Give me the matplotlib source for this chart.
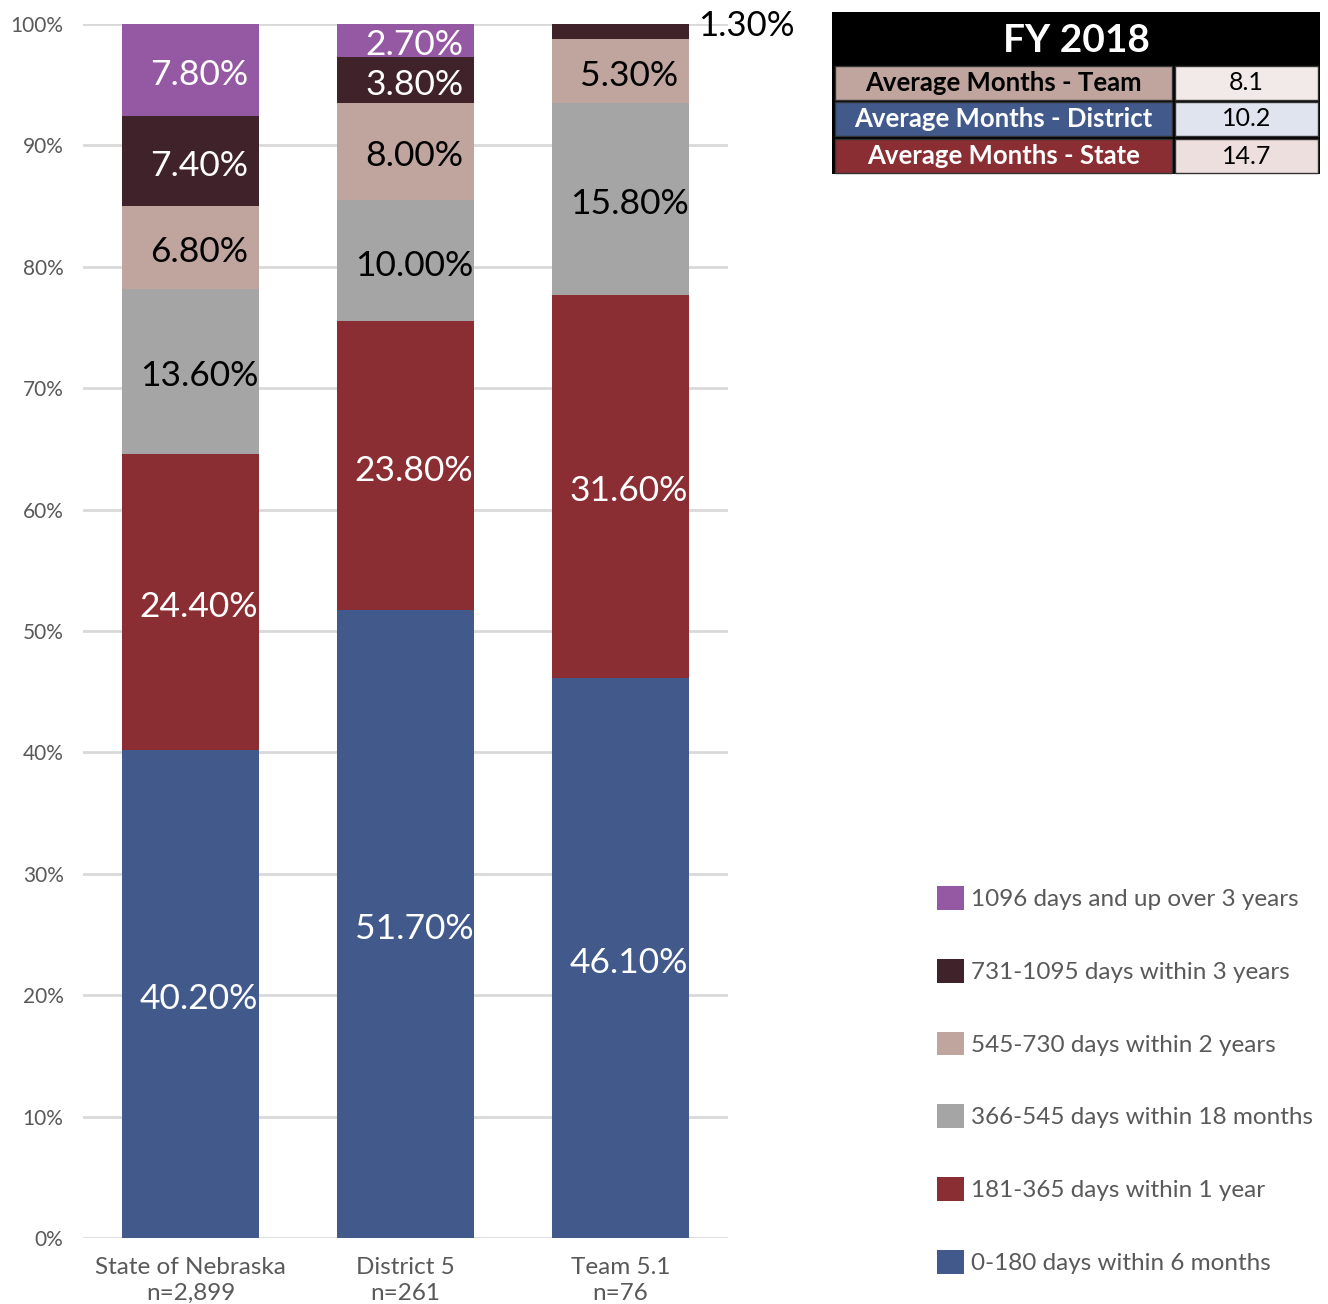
import matplotlib
matplotlib.use("Agg")
import matplotlib.pyplot as plt
from matplotlib.patches import Patch, Rectangle
import numpy as np

plt.rcParams['font.family'] = ['Lato', 'DejaVu Sans']

categories = ["State of Nebraska\nn=2,899", "District 5\nn=261", "Team 5.1\nn=76"]
series_names = ["0-180 days within 6 months", "181-365 days within 1 year",
                "366-545 days within 18 months", "545-730 days within 2 years",
                "731-1095 days within 3 years", "1096 days and up over 3 years"]
values = {
    "0-180 days within 6 months":     [40.2, 51.7, 46.1],
    "181-365 days within 1 year":     [24.4, 23.8, 31.6],
    "366-545 days within 18 months":  [13.6, 10.0, 15.8],
    "545-730 days within 2 years":    [6.8, 8.0, 5.3],
    "731-1095 days within 3 years":   [7.4, 3.8, 1.3],
    "1096 days and up over 3 years":  [7.8, 2.7, 0.0],
}
colors = ["#41598B", "#8B2E33", "#A5A5A5", "#BFA59E", "#40222A", "#9558A2"]
label_colors = ["white", "white", "black", "black", "white", "white"]

table_title = "FY 2018"
table_rows = ["Average Months - Team", "Average Months - District", "Average Months - State"]
table_vals = ["8.1", "10.2", "14.7"]
table_row_colors = ["#BFA59E", "#41598B", "#8B2E33"]
table_row_text = ["black", "white", "white"]
table_val_colors = ["#F2EAE8", "#DFE4EE", "#EEDFDF"]

W, H = 1328, 1304
fig = plt.figure(figsize=(W/100, H/100), dpi=100)
ax = fig.add_axes([83/W, 1-1238/H, (728-83)/W, (1238-24)/H])

x = np.arange(len(categories))
bw = 0.64
bottom = np.zeros(len(categories))
for i, name in enumerate(series_names):
    v = np.array(values[name]) / 100.0
    ax.bar(x, v, bw, bottom=bottom, color=colors[i], zorder=2, linewidth=0)
    for j in range(len(categories)):
        if v[j] <= 0:
            continue
        if v[j] < 0.02 and bottom[j] + v[j] > 0.99:
            ax.text(x[j] + bw/2 + 0.04, 0.998, f"{values[name][j]:.2f}%", ha='left', va='center',
                    fontsize=25, color='black', zorder=4)
        else:
            yc = min(bottom[j] + v[j]/2, (bottom[j] + 1.0)/2) - 0.004
            ax.text(x[j] + 0.04, yc, f"{values[name][j]:.2f}%", ha='center', va='center',
                    fontsize=25.5, color=label_colors[i], zorder=4)
    bottom += v

ax.set_xlim(-0.5, 2.5)
ax.set_ylim(0, 1.0)
ax.set_yticks(np.arange(0, 1.01, 0.1))
ax.set_yticklabels([f"{int(round(t*100))}%" for t in np.arange(0, 1.01, 0.1)])
ax.set_xticks(x)
ax.set_xticklabels(categories)
ax.grid(axis='y', color='#D9D9D9', linewidth=2, zorder=0)
ax.set_axisbelow(True)
for s in ax.spines.values():
    s.set_visible(False)
ax.tick_params(axis='both', length=0, colors='#595959')
ax.tick_params(axis='y', pad=14, labelsize=15)
ax.tick_params(axis='x', pad=14, labelsize=17.5)
for lbl in ax.get_xticklabels():
    lbl.set_linespacing(1.25)

# Table
tx = fig.add_axes([0, 0, 1, 1], zorder=5)
tx.set_xlim(0, W)
tx.set_ylim(H, 0)
tx.axis('off')
tx.patch.set_alpha(0)
tx.add_patch(Rectangle((832, 12), 488, 162, facecolor='black', edgecolor='none'))
tx.text((832+1320)/2, 40, table_title, ha='center', va='center', fontsize=28,
        fontweight='bold', color='white')
row_tops = [66, 102, 139]
for k in range(3):
    y0 = row_tops[k]
    tx.add_patch(Rectangle((835, y0), 337, 34, facecolor=table_row_colors[k], edgecolor='#333333', linewidth=1))
    tx.add_patch(Rectangle((1175, y0), 143, 34, facecolor=table_val_colors[k], edgecolor='#333333', linewidth=1))
    tx.text((835+1172)/2, y0+17, table_rows[k], ha='center', va='center', fontsize=18.5,
            fontweight='bold', color=table_row_text[k])
    tx.text((1175+1318)/2, y0+17, table_vals[k], ha='center', va='center', fontsize=18,
            color='black')

# Legend (top to bottom: last series first)
handles = [Patch(facecolor=colors[i], edgecolor='none', label=series_names[i])
           for i in reversed(range(len(series_names)))]
leg = fig.legend(handles=handles, loc='upper left', bbox_to_anchor=(937/W, 1-886/H),
                 frameon=False, fontsize=17.5, handlelength=1.13, handleheight=1.13,
                 labelspacing=2.0, handletextpad=0.25, borderpad=0, borderaxespad=0)
for t in leg.get_texts():
    t.set_color('#595959')

fig.savefig("out.png", dpi=100)
